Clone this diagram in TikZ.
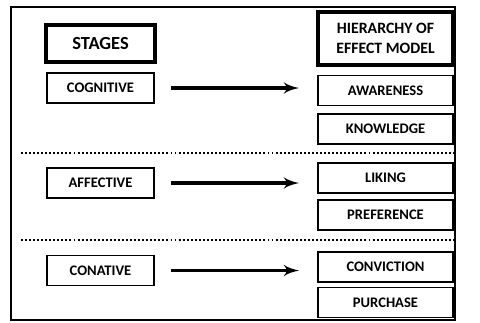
\documentclass[tikz,border=0pt]{standalone}
\usepackage{fontspec}
\setmainfont{Carlito}
\usepackage{tikz}
\usetikzlibrary{positioning,arrows,calc}
\tikzset{
    stage/.style = {
        draw,
        shape=rectangle,
        minimum height=0.6cm,
        minimum width=2.14cm,
        line width=1.1pt,
        font=\bfseries\fontsize{8.3}{10}\selectfont
    },
    effect/.style = {
        stage,
        minimum width=2.7cm
    },
    header/.style = {
        draw,
        shape=rectangle,
        line width=2pt,
        align=center,
        inner sep=1pt
    },
    sep/.style = {
        line width=1.1pt,
        dash pattern=on 1.1pt off 1.2pt
    },
    >=latex',
}
\begin{document}
\begin{tikzpicture}[x=0.02cm,y=-0.02cm]
            \useasboundingbox (0,0) rectangle (480,322);
            \draw[line width=0.8pt] (11,7) rectangle (455,320);

            % left column
            \node[header, minimum width=2.18cm, minimum height=0.74cm,
                  font=\bfseries\fontsize{10.5}{12}\selectfont] (stages) at (100.5,43.5) {STAGES};
            \node[stage] (cog) at (100.5,88) {COGNITIVE};
            \node[stage] (aff) at (100.5,183) {AFFECTIVE};
            \node[stage] (con) at (100.5,270.5) {CONATIVE};

            % right column
            \node[header, minimum width=2.7cm, minimum height=1.06cm,
                  font=\bfseries\fontsize{9}{11}\selectfont] (hier) at (385.5,38.5) {HIERARCHY OF\\EFFECT MODEL};
            \node[effect] (aware) at (385.5,90.5) {AWARENESS};
            \node[effect] (know) at (385.5,129) {KNOWLEDGE};
            \node[effect] (like) at (385.5,178) {LIKING};
            \node[effect] (pref) at (385.5,215) {PREFERENCE};
            \node[effect] (convi) at (385.5,267) {CONVICTION};
            \node[effect] (purch) at (385.5,302.5) {PURCHASE};

            % separators
            \coordinate (s1l) at (21,153);
            \coordinate (s1r) at (455,153);
            \coordinate (s2l) at (21,240);
            \coordinate (s2r) at (455,240);
            \path[draw, sep] (s1l) -- (s1r);
            \path[draw, sep] (s2l) -- (s2r);

            \path[draw, ->, line width=2pt, shorten <=0.32cm, shorten >=0.36cm] (cog.east) -- (cog.east -| aware.west);
            \path[draw, ->, line width=2pt, shorten <=0.32cm, shorten >=0.36cm] (aff.east) -- (aff.east -| like.west);
            \path[draw, ->, line width=2pt, shorten <=0.32cm, shorten >=0.36cm] (con.east) -- (con.east -| convi.west);
        \end{tikzpicture}
\end{document}
